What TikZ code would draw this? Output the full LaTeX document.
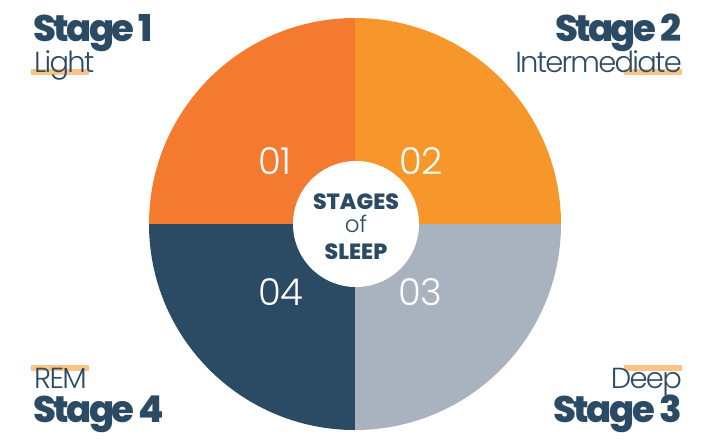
\documentclass[tikz,border=0pt]{standalone}
\usepackage{fontspec}
\setmainfont{Poppins}
\newfontfamily\thinfont{Poppins Light}
\newfontfamily\tightthinfont[LetterSpace=-6]{Poppins Light}
\newfontfamily\heavyfont[LetterSpace=-7]{Poppins ExtraBold}
\newfontfamily\blockfont{Poppins ExtraBold}
\usetikzlibrary{positioning}

\definecolor{light orange}{HTML}{F37A2F}
\definecolor{deep orange}{HTML}{F7962A}
\definecolor{pale grey}{HTML}{A9B3BF}
\definecolor{night blue}{HTML}{2B4A64}
\definecolor{bar orange}{HTML}{FBC385}
\tikzset{
  stage title/.style={font=\fontsize{37}{37}\heavyfont, text=night blue, inner sep=0pt},
  stage name/.style={font=\fontsize{29}{29}\tightthinfont, text=night blue, inner sep=0pt},
  number/.style={font=\fontsize{37}{37}\thinfont, text=white, inner sep=0pt, anchor=base west},
  core text/.style={font=\fontsize{22}{22}\blockfont, text=night blue, anchor=base, inner sep=0pt},
  marker/.style={fill=bar orange}
  }

\begin{document}
\begin{tikzpicture}[x=1pt, y=-1pt]
    \useasboundingbox (0,0) rectangle (712,440);
    % the four quarters
    \begin{scope}
      \clip (355,224) circle (206pt);
      \fill[light orange] (140,224) rectangle (355,10);
      \fill[deep orange] (355,224) rectangle (570,10);
      \fill[pale grey] (355,224) rectangle (570,440);
      \fill[night blue] (140,224) rectangle (355,440);
    \end{scope}

    % the hole in the middle
    \node[circle, fill=white, minimum size=126pt, inner sep=0pt] (core) at (356,224) {};
    \node[core text] (stages) at (356,209) {STAGES};
    \node[core text, font=\fontsize{23}{23}\thinfont] (of) at (356,232) {of};
    \node[core text] (sleep) at (356,259) {SLEEP};

    % the numbers
    \foreach \pos/\name/\num in {{(258,174)/one/01}, {(399,174)/two/02}, {(398,305)/three/03}, {(258,305)/four/04}} {
      \node[number] (\name) at \pos {\num};
    }

    % the orange marks
    \fill[marker] (31,69) rectangle (89,75);
    \fill[marker] (624,69) rectangle (682,75);
    \fill[marker] (31,365) rectangle (89,371);
    \fill[marker] (624,365) rectangle (682,371);

    % the labels
    \node[stage title, anchor=base west] (stage one) at (33,41) {Stage 1};
    \node[stage name, anchor=base west] (light) at (34,72) {Light};
    \node[stage title, anchor=base east] (stage two) at (682,41) {Stage 2};
    \node[stage name, anchor=base east] (intermediate) at (682,72) {Intermediate};
    \node[stage name, anchor=base east] (deep) at (682,388) {Deep};
    \node[stage title, anchor=base east] (stage three) at (682,422) {Stage 3};
    \node[stage name, anchor=base west] (rem) at (34,388) {REM};
    \node[stage title, anchor=base west] (stage four) at (33,422) {Stage 4};
\end{tikzpicture}
\end{document}
